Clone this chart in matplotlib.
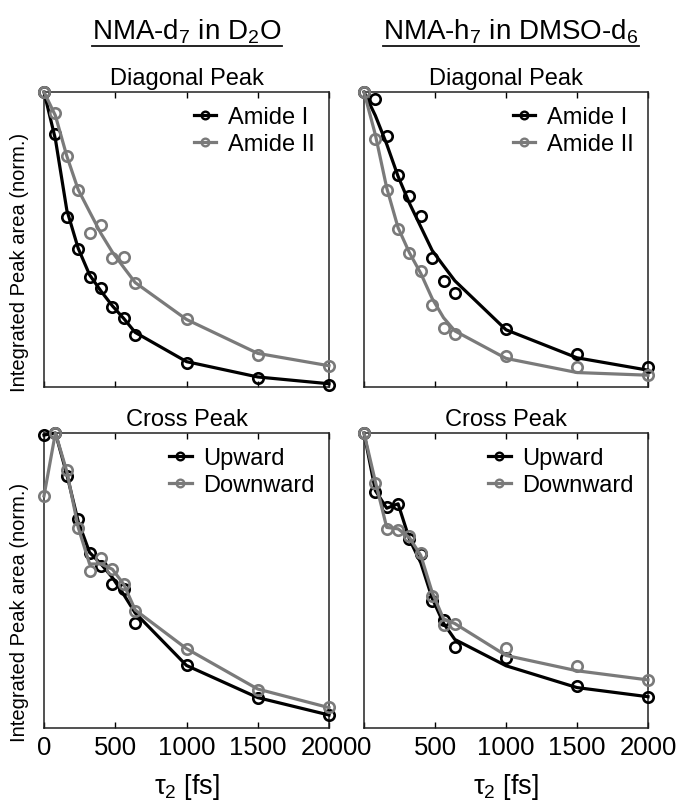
import matplotlib
matplotlib.use("Agg")
import matplotlib.pyplot as plt
from matplotlib.lines import Line2D

plt.rcParams["font.family"] = ["Liberation Sans", "DejaVu Sans"]
plt.rcParams["mathtext.fontset"] = "custom"
plt.rcParams["mathtext.rm"] = "Liberation Sans"
plt.rcParams["mathtext.it"] = "Liberation Sans"

# waiting times tau2 [fs]
t = [0, 80, 160, 240, 320, 400, 480, 560, 640, 1000, 1500, 2000]

# NMA-d7 in D2O, diagonal peak
d2o_diag_amide1 = [1.0, 0.857, 0.577, 0.469, 0.374, 0.335, 0.272, 0.234, 0.177, 0.083, 0.031, 0.008]
d2o_diag_amide1_fit = [1.0, 0.84, 0.60, 0.47, 0.38, 0.325, 0.275, 0.232, 0.185, 0.086, 0.034, 0.011]
d2o_diag_amide2 = [1.0, 0.928, 0.783, 0.669, 0.523, 0.549, 0.438, 0.440, 0.354, 0.229, 0.109, 0.071]
d2o_diag_amide2_fit = [1.0, 0.92, 0.783, 0.669, 0.594, 0.52, 0.457, 0.405, 0.354, 0.229, 0.114, 0.072]

# NMA-h7 in DMSO-d6, diagonal peak
dmso_diag_amide1 = [1.0, 0.975, 0.85, 0.718, 0.646, 0.581, 0.438, 0.36, 0.32, 0.197, 0.113, 0.069]
dmso_diag_amide1_fit = [1.0, 0.92, 0.823, 0.714, 0.623, 0.543, 0.463, 0.411, 0.36, 0.194, 0.099, 0.057]
dmso_diag_amide2 = [1.0, 0.842, 0.669, 0.537, 0.454, 0.392, 0.278, 0.2, 0.181, 0.106, 0.069, 0.042]
dmso_diag_amide2_fit = [1.0, 0.855, 0.675, 0.54, 0.455, 0.385, 0.30, 0.235, 0.19, 0.097, 0.049, 0.040]

# NMA-d7 in D2O, cross peak
d2o_cross_up = [0.993, 1.0, 0.853, 0.710, 0.592, 0.55, 0.489, 0.47, 0.355, 0.215, 0.103, 0.043]
d2o_cross_up_fit = [0.993, 1.0, 0.86, 0.70, 0.595, 0.556, 0.51, 0.452, 0.39, 0.212, 0.103, 0.044]
d2o_cross_down = [0.787, 1.0, 0.874, 0.679, 0.533, 0.576, 0.538, 0.487, 0.397, 0.269, 0.128, 0.071]
d2o_cross_down_fit = [0.787, 1.0, 0.87, 0.68, 0.556, 0.556, 0.538, 0.487, 0.40, 0.269, 0.132, 0.069]

# NMA-h7 in DMSO-d6, cross peak
dmso_cross_up = [1.0, 0.80, 0.749, 0.758, 0.64, 0.59, 0.429, 0.366, 0.274, 0.237, 0.141, 0.106]
dmso_cross_up_fit = [1.0, 0.805, 0.745, 0.76, 0.64, 0.56, 0.44, 0.355, 0.30, 0.211, 0.137, 0.106]
dmso_cross_down = [1.0, 0.829, 0.674, 0.671, 0.651, 0.592, 0.449, 0.349, 0.354, 0.271, 0.211, 0.163]
dmso_cross_down_fit = [1.0, 0.835, 0.68, 0.675, 0.645, 0.585, 0.46, 0.37, 0.354, 0.246, 0.194, 0.163]

x_ticks = [0, 500, 1000, 1500, 2000]

BLACK = "#000000"
GRAY = "#7a7a7a"

W, H = 677, 804
fig = plt.figure(figsize=(W / 100, H / 100), dpi=100)


def px_axes(left, top, right, bottom):
    return fig.add_axes([left / W, 1 - bottom / H, (right - left) / W, (bottom - top) / H])


def draw_panel(ax, s1, f1, s2, f2, labels, subtitle, bottom_row):
    ax.plot(t, f1, color=BLACK, lw=2.3, clip_on=False, zorder=3)
    ax.plot(t, s1, ls="none", marker="o", ms=7.5, mfc="none", mec=BLACK, mew=1.9,
            clip_on=False, zorder=4)
    ax.plot(t, f2, color=GRAY, lw=2.3, clip_on=False, zorder=5)
    ax.plot(t, s2, ls="none", marker="o", ms=7.5, mfc="none", mec=GRAY, mew=1.9,
            clip_on=False, zorder=6)

    handles = [
        Line2D([], [], color=BLACK, lw=2.3, marker="o", ms=5.5, mfc="none", mew=1.7),
        Line2D([], [], color=GRAY, lw=2.3, marker="o", ms=5.5, mfc="none", mew=1.7),
    ]
    ax.legend(handles, labels, loc="upper right", frameon=False, fontsize=17,
              handlelength=0.95, handletextpad=0.5, labelspacing=0.2,
              borderaxespad=0.2)

    ax.set_xlim(0, 2000)
    ax.set_ylim(0, 1)
    ax.set_xticks(x_ticks)
    ax.set_yticks([])
    ax.tick_params(axis="x", direction="in", top=True, bottom=True, length=4,
                   width=1, labelsize=18.5, pad=5, labelbottom=bottom_row)
    for sp in ax.spines.values():
        sp.set_linewidth(1.1)
        sp.set_color("#222222")
    ax.set_title(subtitle, fontsize=17, pad=6)
    if bottom_row:
        ax.set_xlabel(r"$\tau_2$ [fs]", fontsize=19.5, labelpad=9)


ax_tl = px_axes(44, 93, 329, 388)
ax_tr = px_axes(364, 93, 648, 388)
ax_bl = px_axes(44, 434, 329, 729)
ax_br = px_axes(364, 434, 648, 729)

draw_panel(ax_tl, d2o_diag_amide1, d2o_diag_amide1_fit, d2o_diag_amide2, d2o_diag_amide2_fit,
           ["Amide I", "Amide II"], "Diagonal Peak", False)
draw_panel(ax_tr, dmso_diag_amide1, dmso_diag_amide1_fit, dmso_diag_amide2, dmso_diag_amide2_fit,
           ["Amide I", "Amide II"], "Diagonal Peak", False)
draw_panel(ax_bl, d2o_cross_up, d2o_cross_up_fit, d2o_cross_down, d2o_cross_down_fit,
           ["Upward", "Downward"], "Cross Peak", True)
draw_panel(ax_br, dmso_cross_up, dmso_cross_up_fit, dmso_cross_down, dmso_cross_down_fit,
           ["Upward", "Downward"], "Cross Peak", True)

# y labels sit a bit below the panel centres
fig.text(20 / W, 1 - 262 / H, "Integrated Peak area (norm.)", rotation=90,
         ha="center", va="center", fontsize=14.5)
fig.text(20 / W, 1 - 612 / H, "Integrated Peak area (norm.)", rotation=90,
         ha="center", va="center", fontsize=14.5)

# underlined column headers
col_titles = [(187, r"NMA-d$_7$ in D$_2$O"), (511, r"NMA-h$_7$ in DMSO-d$_6$")]
title_texts = []
for cx, s in col_titles:
    title_texts.append(fig.text(cx / W, 1 - 40 / H, s, ha="center", va="baseline", fontsize=20))

fig.canvas.draw()
renderer = fig.canvas.get_renderer()
for txt in title_texts:
    bb = txt.get_window_extent(renderer)
    y_line = 1 - 47 / H
    fig.add_artist(Line2D([bb.x0 / W, bb.x1 / W], [y_line, y_line], color="#111111", lw=1.3))

fig.savefig("out.png", dpi=100)
